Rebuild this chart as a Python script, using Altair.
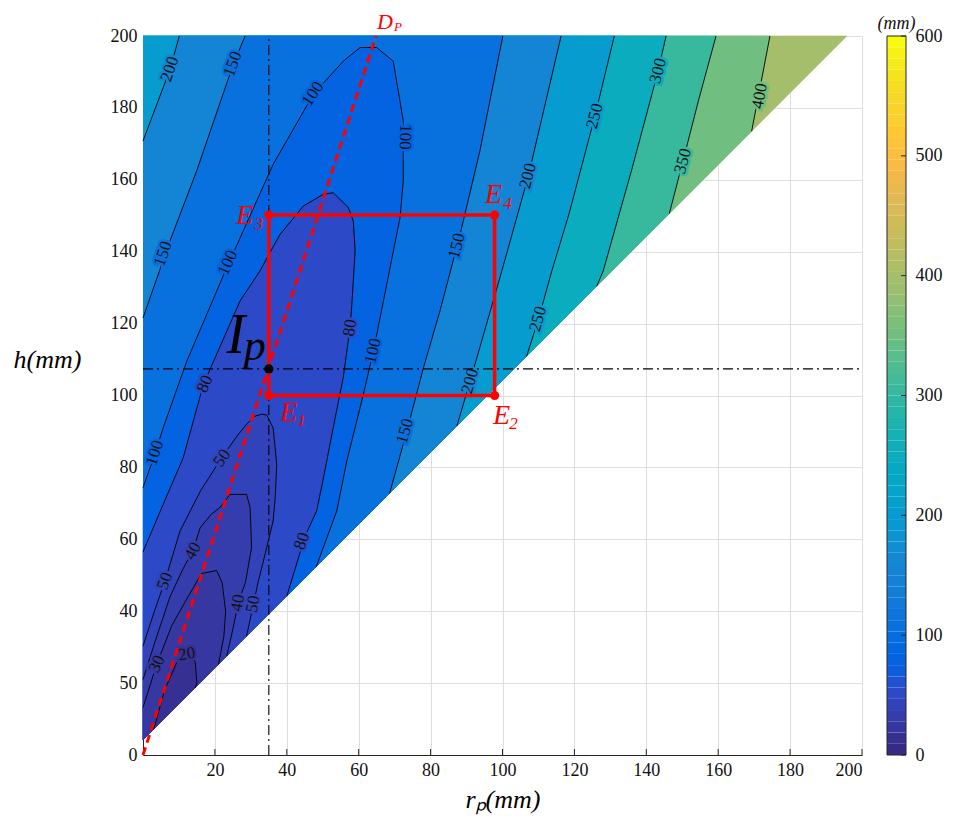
import altair as alt
import pandas as pd

SERIF = "Liberation Serif"

# ---------------- axis ticks ----------------
X_TICKS = [0, 20, 40, 60, 80, 100, 120, 140, 160, 180, 200]
Y_TICKS = [0, 20, 40, 60, 80, 100, 120, 140, 160, 180, 200]
CB_TICKS = [0, 100, 200, 300, 400, 500, 600]

# ---------------- admissible domain (corners) ----------------
DOMAIN = [(0, 4.2), (195.8, 200), (0, 200)]

# ---------------- contour lines (r_p, h) ----------------
C400 = [(174.4, 200), (171.8, 186.5), (169.3, 173.5)]
C350 = [(159.4, 200), (154.5, 182), (150.2, 165.2), (146.4, 150.6)]
C300 = [(145.5, 200), (143.3, 190.3), (136, 163), (128, 134.6), (126.2, 130.4)]
C250 = [(131.1, 200), (125.7, 177.7), (118.5, 150.5), (113.7, 134.6), (110, 121.2), (106.7, 110.9)]
C200L = [(0, 170.8), (7.5, 190.7), (10.1, 200)]
C200R = [(116.3, 200), (107.2, 161.1), (99.8, 134.6), (91, 104), (87.3, 91.5)]
C150L = [(0, 121.6), (7.5, 143), (14.9, 162.4), (25.1, 192.1), (28.4, 200)]
C150R = [(100.1, 200), (93.7, 168), (88.2, 144.8), (82.6, 123.5), (78, 107.7), (73.4, 90.1), (68.6, 72.8)]
C100 = [(0, 74.4), (3.3, 83.6), (5.6, 91), (12.2, 109.6), (23.3, 135.6), (36.2, 164.3), (47.4, 183.8),
        (55.7, 193), (60.4, 196.8), (65, 196.8), (69.6, 193), (72.4, 176.4), (72.4, 159.7), (71.5, 149.5),
        (67.8, 130.9), (64.1, 112.4), (61.3, 100.3), (56.7, 81.8), (53.9, 67.9), (48.2, 52.4)]
C80 = [(0, 56.5), (5.6, 69.7), (11.2, 82.7), (16.8, 103.1), (27, 126.3), (32.5, 134.6), (38.1, 144.8),
       (44.6, 152.7), (50.2, 156), (52.9, 156.4), (57.1, 152.3), (58.5, 148.5), (59, 140.2), (58.1, 125.4),
       (57.6, 118.9), (55.7, 105), (52.9, 91), (50.2, 77.1), (48.3, 67.9), (45.1, 60.9), (40, 44.2)]
C50 = [(0, 30.3), (3, 39.5), (6.1, 48.4), (10.3, 62.3), (16, 73.5), (21.9, 82.7), (26, 88.5), (28.8, 92),
       (31, 94.2), (33, 94.8), (34.4, 94.6), (36.2, 91), (37.2, 80.8), (36.8, 72), (36.2, 65.1), (34, 56),
       (32, 48), (30.7, 41.9), (28.8, 33)]
C40 = [(0, 21), (3.5, 32), (7.5, 44), (11, 51.5), (14, 57.2), (15.9, 63.2), (19, 67), (21.4, 68.8),
       (24.2, 72.5), (28.8, 72.5), (29.8, 68.8), (30.2, 57.7), (28.5, 48), (26.5, 42.4), (25, 35), (23.3, 27.5)]
C30 = [(0, 13.2), (3.8, 25.2), (8, 36), (12.5, 44), (16.3, 50.5), (20.5, 51.3), (22, 48), (23, 40),
       (22.5, 33), (21, 25.2)]
C20 = [(3, 7.2), (6, 18), (9.5, 26), (12.2, 28), (14.5, 26), (15, 20), (14.5, 18.7)]

# ---------------- parula (64) colormap ----------------
PARULA = ["#352a87", "#363093", "#3637a0", "#353dad", "#3243ba", "#2c4ac7", "#2053d4", "#0f5cdd",
          "#0363e1", "#0268e1", "#046de0", "#0871de", "#0d75dc", "#1079da", "#127dd8", "#1481d6",
          "#1485d4", "#1389d3", "#108ed2", "#0c93d2", "#0998d1", "#079ccf", "#06a0cd", "#06a4ca",
          "#06a7c6", "#07a9c2", "#0aacbe", "#0faeb9", "#15b1b4", "#1db3af", "#25b5a9", "#2eb7a4",
          "#38b99e", "#42bb98", "#4dbc92", "#59bd8c", "#65be86", "#71bf80", "#7cbf7b", "#87bf77",
          "#92bf73", "#9cbf6f", "#a5be6b", "#aebe67", "#b7bd64", "#c0bc60", "#c8bc5d", "#d1bb59",
          "#d9ba56", "#e1b952", "#e9b94e", "#f1b94a", "#f8bb44", "#fdbe3d", "#ffc337", "#fec832",
          "#fcce2e", "#fad32a", "#f7d826", "#f5de21", "#f5e41d", "#f5eb18", "#f6f313", "#f9fb0e"]

# fill colour of each sub-level region (band just below the level)
BAND = {"top": "#a5be6b", 400: "#71bf80", 350: "#38b99e", 300: "#0aacbe", 250: "#079ccf",
        200: "#1485d4", 150: "#0871de", 100: "#0363e1", 80: "#2c4ac7", 50: "#3243ba",
        40: "#353dad", 30: "#3637a0", 20: "#363093"}

# ---------------- contour labels: text, r_p, h, angle, level ----------------
LABELS = [("200", 7.5, 190.8, 289, 200), ("150", 25.0, 192.2, 290, 150), ("100", 47.3, 183.9, 304, 100),
          ("100", 72.9, 171.9, 92, 100), ("150", 5.6, 139.4, 289, 150), ("100", 23.6, 136.9, 294, 100),
          ("80", 17.2, 103.2, 294, 80), ("100", 3.3, 84.0, 288, 100), ("80", 57.6, 118.8, 278, 80),
          ("100", 64.0, 112.4, 283, 100), ("150", 72.9, 90.1, 286, 150), ("150", 87.3, 141.6, 284, 150),
          ("200", 91.0, 104.0, 286, 200), ("200", 107.1, 161.1, 284, 200), ("250", 109.9, 121.3, 286, 250),
          ("250", 125.7, 177.7, 285, 250), ("300", 143.3, 190.3, 285, 300), ("350", 150.2, 165.2, 285, 350),
          ("400", 171.6, 183.3, 280, 400), ("80", 44.2, 59.5, 289, 80), ("50", 6.1, 48.4, 290, 50),
          ("40", 13.9, 56.7, 299, 40), ("30", 3.9, 25.3, 295, 30), ("20", 12.2, 28.1, 350, 20),
          ("50", 22.0, 82.6, 305, 50), ("40", 26.4, 42.3, 280, 40), ("50", 30.6, 42.0, 280, 50)]

# ---------------- design points ----------------
E_NAMES = ["E1", "E2", "E4", "E3"]
E_X = [35, 97.8, 97.8, 35]
E_Y = [100, 100, 150.2, 150.2]
IP = (35, 107.4)
DP_LINE = [(0, 0), (64.8, 200)]

# ======================================================================
xs = alt.Scale(domain=[0, 200], nice=False, zero=False)
ys = alt.Scale(domain=[0, 200], nice=False, zero=False)

xaxis = alt.Axis(values=X_TICKS, labelExpr="datum.value == 0 ? '' : datum.label", grid=True,
                 gridColor="#dedede", gridWidth=1, ticks=False, domainColor="#262626", domainWidth=1,
                 labelFont=SERIF, labelFontSize=18, labelColor="#111", labelPadding=6,
                 title="rₚ(mm)", titleFont=SERIF, titleFontStyle="italic", titleFontWeight="normal",
                 titleFontSize=26, titleColor="#000", titleBaseline="alphabetic", titleY=52)
yaxis = alt.Axis(values=Y_TICKS, labelExpr="datum.value == 20 ? '50' : datum.label", grid=True,
                 gridColor="#dedede", gridWidth=1, ticks=False, domainColor="#262626", domainWidth=1,
                 labelFont=SERIF, labelFontSize=18, labelColor="#111", labelPadding=6,
                 title="h(mm)", titleFont=SERIF, titleFontStyle="italic", titleFontWeight="normal",
                 titleFontSize=26, titleColor="#000", titleAngle=0, titleAlign="left",
                 titleBaseline="middle", titleX=-130, titleY=323)


def X(f="x"):
    return alt.X(f"{f}:Q", scale=xs, axis=xaxis)


def Y(f="y"):
    return alt.Y(f"{f}:Q", scale=ys, axis=yaxis)


def pts_df(pts):
    return pd.DataFrame({"x": [p[0] for p in pts], "y": [p[1] for p in pts], "i": list(range(len(pts)))})


def polygon(pts, color):
    return alt.Chart(pts_df(pts)).mark_line(fill=color, stroke=color, strokeWidth=0.6).encode(
        x=X(), y=Y(), order="i:Q")


B0 = [(0, 4.2)]
TOP0 = [(0, 200)]
POLYS = [
    (DOMAIN, BAND["top"]),
    (TOP0 + C400 + B0, BAND[400]),
    (TOP0 + C350 + B0, BAND[350]),
    (TOP0 + C300 + B0, BAND[300]),
    (TOP0 + C250 + B0, BAND[250]),
    (C200L + C200R + B0, BAND[200]),
    (C150L + C150R + B0, BAND[150]),
    (B0 + C100, BAND[100]),
    (B0 + C80, BAND[80]),
    (B0 + C50, BAND[50]),
    (B0 + C40, BAND[40]),
    (B0 + C30, BAND[30]),
    (C20, BAND[20]),
]
layers = [polygon(p, c) for p, c in POLYS]

# contour lines
lines = []
for k, c in enumerate([C400, C350, C300, C250, C200L, C200R, C150L, C150R, C100, C80, C50, C40, C30, C20]):
    d = pts_df(c)
    d["line"] = k
    lines.append(d)
lines_df = pd.concat(lines)
layers.append(alt.Chart(lines_df).mark_line(color="black", strokeWidth=0.9).encode(
    x=X(), y=Y(), detail="line:N", order="i:Q"))

# contour labels with halo
lab_df = pd.DataFrame({"t": [l[0] for l in LABELS], "x": [l[1] for l in LABELS], "y": [l[2] for l in LABELS],
                       "ang": [l[3] for l in LABELS], "halo": [BAND[l[4]] for l in LABELS]})
layers.append(alt.Chart(lab_df).mark_text(font=SERIF, fontSize=17, strokeWidth=5, baseline="middle",
                                          align="center").encode(
    x=X(), y=Y(), text="t:N", angle=alt.Angle("ang:Q", scale=None),
    color=alt.Color("halo:N", scale=None), stroke=alt.Stroke("halo:N", scale=None)))
layers.append(alt.Chart(lab_df).mark_text(font=SERIF, fontSize=17, color="#111", baseline="middle",
                                          align="center").encode(
    x=X(), y=Y(), text="t:N", angle=alt.Angle("ang:Q", scale=None)))

# dash-dot reference lines through I_p
ref_df = pd.DataFrame({"x": [IP[0], 0], "x2": [IP[0], 200], "y": [0, IP[1]], "y2": [200, IP[1]]})
layers.append(alt.Chart(ref_df).mark_rule(color="black", strokeWidth=1.1, strokeDash=[10, 4, 2, 4]).encode(
    x=X(), x2="x2:Q", y=Y(), y2="y2:Q"))

# D_P dashed red line
layers.append(alt.Chart(pts_df(DP_LINE)).mark_line(color="#ff0000", strokeWidth=3, strokeDash=[8, 5]).encode(
    x=X(), y=Y(), order="i:Q"))

# rectangle E1-E2-E4-E3
rect_df = pd.DataFrame({"x": E_X + [E_X[0]], "y": E_Y + [E_Y[0]], "i": list(range(5))})
layers.append(alt.Chart(rect_df).mark_line(color="#ff0000", strokeWidth=3.5).encode(
    x=X(), y=Y(), order="i:Q"))
layers.append(alt.Chart(pd.DataFrame({"x": E_X, "y": E_Y})).mark_circle(color="#ff0000", size=85, opacity=1).encode(
    x=X(), y=Y()))
layers.append(alt.Chart(pd.DataFrame({"x": [IP[0]], "y": [IP[1]]})).mark_circle(color="black", size=85, opacity=1).encode(
    x=X(), y=Y()))

# annotation texts
E_df = pd.DataFrame({"x": E_X, "y": E_Y, "n": E_NAMES})


def ann(df, text, dx, dy, size, color):
    return alt.Chart(df).mark_text(text=text, dx=dx, dy=dy, fontSize=size, font=SERIF, fontStyle="italic",
                                   color=color, align="center", baseline="middle").encode(x=X(), y=Y())


for name, sub, dxE, dyE, dxS, dyS in [("E1", "1", 20, 17, 33, 25), ("E2", "2", 7, 20, 19, 28),
                                      ("E3", "3", -24, 1, -10, 9), ("E4", "4", -1, -20, 13, -11)]:
    d = E_df[E_df.n == name]
    layers.append(ann(d, "E", dxE, dyE, 28, "#ff0000"))
    layers.append(ann(d, sub, dxS, dyS, 17, "#ff0000"))

ip_df = pd.DataFrame({"x": [IP[0]], "y": [IP[1]]})
layers.append(ann(ip_df, "I", -33, -33, 56, "black"))
layers.append(ann(ip_df, "p", -14, -22, 44, "black"))

dp_df = pd.DataFrame({"x": [DP_LINE[1][0]], "y": [DP_LINE[1][1]]})
layers.append(ann(dp_df, "D", 9, -14, 22, "#ff0000"))
layers.append(ann(dp_df, "P", 22, -9, 13, "#ff0000"))

# inward ticks on the bottom axis
tick_df = pd.DataFrame({"x": X_TICKS[1:]})
layers.append(alt.Chart(tick_df).mark_rule(color="#262626", strokeWidth=1).encode(
    x=X(), y=alt.value(719), y2=alt.value(713)))

main = alt.layer(*layers).properties(width=719, height=719)

# ---------------- colorbar ----------------
cb_df = pd.DataFrame({"lo": [i * 600 / 64 for i in range(64)], "hi": [(i + 1) * 600 / 64 for i in range(64)],
                      "c": PARULA})
cby = alt.Scale(domain=[0, 600], nice=False, zero=False)
cb_axis = alt.Axis(orient="right", values=CB_TICKS, ticks=False, domain=False, grid=False, labelFont=SERIF,
                   labelFontSize=18, labelColor="#111", labelPadding=9, title=None)
cb = alt.layer(
    alt.Chart(cb_df).mark_rect().encode(y=alt.Y("lo:Q", scale=cby, axis=cb_axis), y2="hi:Q",
                                        x=alt.value(0), x2=alt.value(19),
                                        color=alt.Color("c:N", scale=None)),
    alt.Chart(pd.DataFrame({"v": CB_TICKS})).mark_rule(color="#262626").encode(
        y=alt.Y("v:Q", scale=cby, axis=cb_axis), x=alt.value(14), x2=alt.value(19)),
    alt.Chart(pd.DataFrame({"v": [0]})).mark_rect(filled=False, stroke="#262626", strokeWidth=1).encode(
        x=alt.value(0), x2=alt.value(19), y=alt.value(0), y2=alt.value(719)),
).properties(width=19, height=719,
             title=alt.TitleParams("(mm)", font=SERIF, fontStyle="italic", fontSize=18, fontWeight="normal",
                                   anchor="middle", offset=-6, color="#111"))

chart = alt.hconcat(main, cb, spacing=25, bounds="flush").properties(
    padding={"left": 5, "top": 3, "right": 5, "bottom": 5}
).configure_view(stroke=None)

chart.save("out.html", embed_options={"renderer": "svg", "actions": False})
